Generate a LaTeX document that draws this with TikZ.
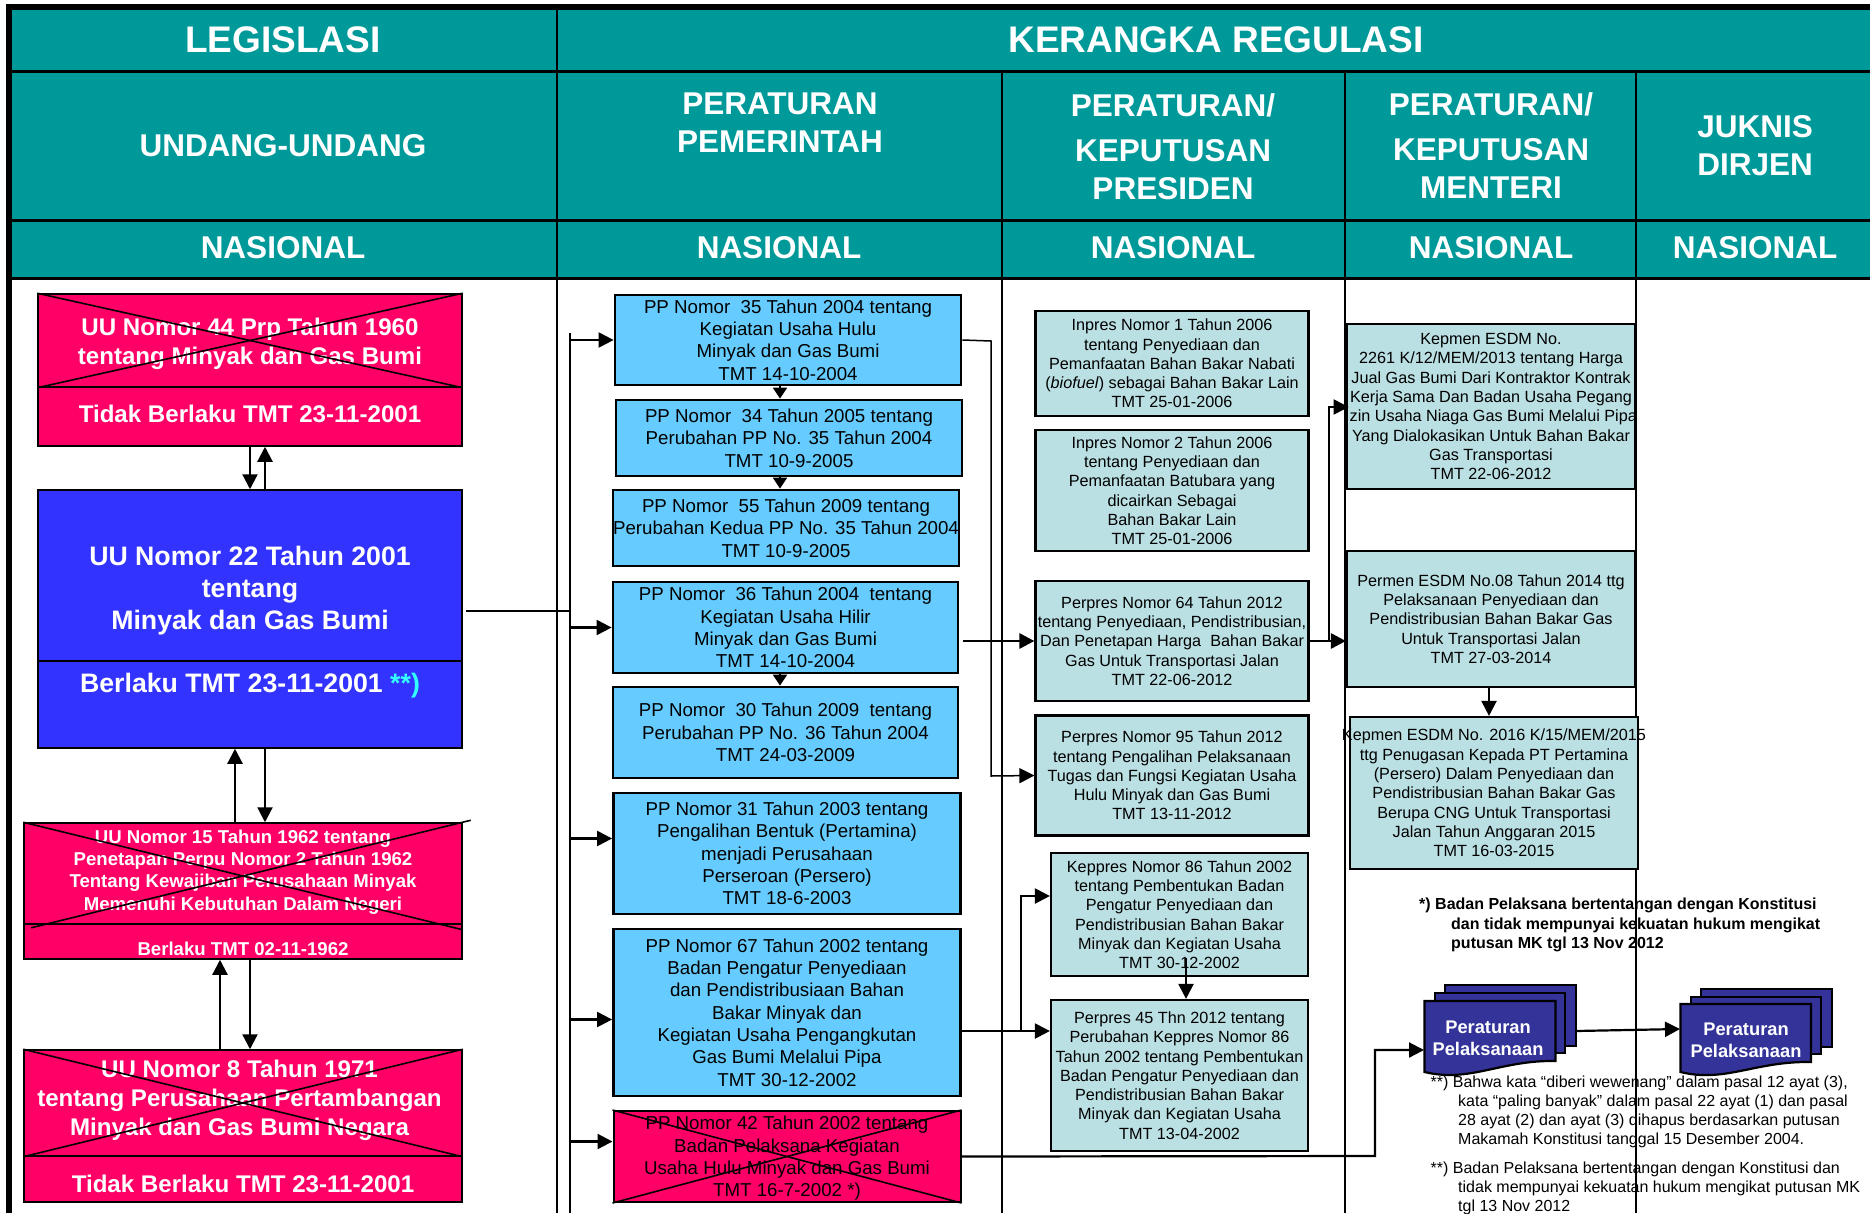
\documentclass[tikz,border=0pt]{standalone}
\usepackage{fontspec}
\setmainfont{Liberation Sans}
\usetikzlibrary{calc}
\usetikzlibrary{arrows.meta}
\definecolor{hdteal}{HTML}{009999}
\definecolor{dropred}{HTML}{FF0066}
\definecolor{lawblue}{HTML}{3333FF}
\definecolor{ppblue}{HTML}{66CCFF}
\definecolor{palebox}{HTML}{BBE0E3}
\definecolor{docblue}{HTML}{333399}
\definecolor{starcyan}{HTML}{33FFFF}
\tikzset{
	hdbig/.style={text=white,align=center,font=\fontsize{37}{44}\selectfont\bfseries},
	hdtext/.style={text=white,align=center,font=\fontsize{31.5}{38}\selectfont\bfseries},
	box/.style={draw=black,align=center,inner sep=0pt},
	uubox/.style={box,fill=dropred,line width=1.5},
	uusmall/.style={text=white,align=center,inner sep=0pt,font=\fontsize{18.6}{22.2}\selectfont\bfseries},
	uutext/.style={text=white,align=center,inner sep=0pt,font=\fontsize{24.1}{29}\selectfont\bfseries},
	uubig/.style={text=white,align=center,inner sep=0pt,font=\fontsize{26.7}{32}\selectfont\bfseries},
	ppbox/.style={box,fill=ppblue,line width=2.8,text depth=0pt,font=\fontsize{18.7}{22.3}\selectfont},
	dropbox/.style={box,fill=dropred,line width=2,text depth=0pt,font=\fontsize{18.7}{22.3}\selectfont},
	regbox/.style={box,fill=palebox,line width=2.2,text depth=0pt,font=\fontsize{16.2}{19.3}\selectfont},
	sheet/.style={draw=black,fill=docblue,line width=2.2,inner sep=0pt},
	doctext/.style={text=white,align=center,inner sep=0pt,font=\fontsize{18.3}{22}\selectfont\bfseries},
	notetext/.style={align=left,inner sep=0pt,font=\fontsize{16}{18.9}\selectfont},
	conn/.style={draw=black,-{Triangle[length=15,width=15]},line width=2.2},
	stub/.style={draw=black,-{Triangle[length=11,width=14]},line width=2.2},
	plain/.style={draw=black,line width=2},
	crossline/.style={draw=black,line width=1.6}
}
\begin{document}
\begin{tikzpicture}[x=1pt,y=-1pt]
	\useasboundingbox (0,0) rectangle (1870,1213);

	% Header band and grid
	\fill [hdteal] (8,7) rectangle (1870,277);
	\draw [line width=6] (8.5,1213) -- (8.5,7) -- (1870,7);
	\foreach \y in {71,220,278}{
		\draw [line width=3] (8,\y) -- (1870,\y);
	}
	\draw [line width=2.5] (557,7) -- (557,1213);
	\foreach \x in {1002,1345,1636}{
		\draw [line width=2.5] (\x,71) -- (\x,1213);
	}

	\node at (283,40) (legislasi) [hdbig] {LEGISLASI};
	\node at (1216,40) (kerangka) [hdbig] {KERANGKA REGULASI};
	\node at (283,146) (hduu) [hdtext] {UNDANG-UNDANG};
	\node at (780,123) (hdpp) [hdtext] {PERATURAN\\PEMERINTAH};
	\node at (1173,147) (hdpres) [hdtext] {PERATURAN/\\[7pt]KEPUTUSAN\\PRESIDEN};
	\node at (1491,146) (hdmen) [hdtext] {PERATURAN/\\[7pt]KEPUTUSAN\\MENTERI};
	\node at (1755,146) (hdjuk) [hdtext] {JUKNIS\\DIRJEN};
	\foreach \x/\n in {283/a,779/b,1173/c,1491/d,1755/e}{
		\node at (\x,248) (nas\n) [hdtext] {NASIONAL};
	}

	% Undang-undang
	\node at (250,340.5) (uu60a) [uubox,minimum width=424,minimum height=93] {};
	\node at (250,416.5) (uu60b) [uubox,minimum width=424,minimum height=59] {};
	\node at (250,344) (uu60t) [uutext] {UU Nomor 44 Prp Tahun 1960\\tentang Minyak dan Gas Bumi};
	\node at (250,414) (uu60s) [uutext] {Tidak Berlaku TMT 23-11-2001};
	\draw [crossline] (uu60a.north west) -- (uu60a.south east);
	\draw [crossline] (uu60a.south west) -- (uu60a.north east);

	\node at (250,575.5) (uu22a) [uubox,fill=lawblue,minimum width=424,minimum height=171] {};
	\node at (250,704.5) (uu22b) [uubox,fill=lawblue,minimum width=424,minimum height=87] {};
	\node at (250,590.5) (uu22t) [uubig] {UU Nomor 22 Tahun 2001\\tentang\\Minyak dan Gas Bumi};
	\node at (250,685.5) (uu22s) [uubig] {Berlaku TMT 23-11-2001 \textcolor{starcyan}{**)}};

	\node at (243,873.5) (uu15a) [uubox,minimum width=438,minimum height=101] {};
	\node at (243,941.5) (uu15b) [uubox,minimum width=438,minimum height=35] {};
	\node at (243,872) (uu15t) [uusmall] {UU Nomor 15 Tahun 1962 tentang\\Penetapan Perpu Nomor 2 Tahun 1962\\Tentang Kewajiban Perusahaan Minyak\\Memenuhi Kebutuhan Dalam Negeri};
	\node at (243,949) (uu15s) [uusmall] {Berlaku TMT 02-11-1962};
	\draw [crossline] (uu15a.north west) -- ($(uu15a.south east)+(0,5)$);
	\draw [crossline] ($(uu15a.south west)+(8,3)$) -- ($(uu15a.north east)+(8,-2)$);

	\node at (243,1103) (uu8a) [uubox,minimum width=438,minimum height=106] {};
	\node at (243,1179) (uu8b) [uubox,minimum width=438,minimum height=46] {};
	\node at (239.5,1100) (uu8t) [uutext] {UU Nomor 8 Tahun 1971\\tentang Perusahaan Pertambangan\\Minyak dan Gas Bumi Negara};
	\node at (243,1184) (uu8s) [uutext] {Tidak Berlaku TMT 23-11-2001};
	\draw [crossline] (uu8a.north west) -- (uu8a.south east);
	\draw [crossline] (uu8a.south west) -- (uu8a.north east);

	\draw [conn] (uu60b.south -| 250,0) -- (uu22a.north -| 250,0);
	\draw [conn] (uu22a.north -| 265,0) -- (uu60b.south -| 265,0);
	\draw [conn] (uu15a.north -| 235,0) -- (uu22b.south -| 235,0);
	\draw [conn] (uu22b.south -| 265,0) -- (uu15a.north -| 265,0);
	\draw [conn] (uu8a.north -| 220,0) -- (uu15b.south -| 220,0);
	\draw [conn] (uu15b.south -| 250,0) -- (uu8a.north -| 250,0);

	% Trunk towards the government regulations
	\coordinate (uu22out) at (466,611);
	\coordinate (trunktop) at (570,333);
	\coordinate (trunkbot) at (570,1213);
	\draw [plain] (trunktop) -- (trunkbot);
	\draw [plain] (uu22out) -- (trunktop |- uu22out);

	% Peraturan pemerintah
	\node at (788,340) (pp35) [ppbox,minimum width=346,minimum height=90] {PP Nomor~ 35 Tahun 2004 tentang\\Kegiatan Usaha Hulu\\Minyak dan Gas Bumi\\TMT 14-10-2004};
	\node at (789,438) (pp34) [ppbox,minimum width=346,minimum height=76] {PP Nomor~ 34 Tahun 2005 tentang\\Perubahan PP No. 35 Tahun 2004\\TMT 10-9-2005};
	\node at (786,528) (pp55) [ppbox,minimum width=346,minimum height=76] {PP Nomor~ 55 Tahun 2009 tentang\\Perubahan Kedua PP No. 35 Tahun 2004\\TMT 10-9-2005};
	\node at (785.5,627.5) (pp36) [ppbox,minimum width=345,minimum height=91] {PP Nomor~ 36 Tahun 2004~ tentang\\Kegiatan Usaha Hilir\\Minyak dan Gas Bumi\\TMT 14-10-2004};
	\node at (785.5,732.5) (pp30) [ppbox,minimum width=345,minimum height=91] {PP Nomor~ 30 Tahun 2009~ tentang\\Perubahan PP No. 36 Tahun 2004\\TMT 24-03-2009};
	\node at (787,853.5) (pp31) [ppbox,minimum width=347,minimum height=121] {PP Nomor 31 Tahun 2003 tentang\\Pengalihan Bentuk (Pertamina)\\menjadi Perusahaan\\Perseroan (Persero)\\TMT 18-6-2003};
	\node at (787,1012.5) (pp67) [ppbox,minimum width=347,minimum height=167] {PP Nomor 67 Tahun 2002 tentang\\Badan Pengatur Penyediaan\\dan Pendistribusiaan Bahan\\Bakar Minyak dan\\Kegiatan Usaha Pengangkutan\\Gas Bumi Melalui Pipa\\TMT 30-12-2002};
	\node at (787,1156.5) (pp42) [dropbox,minimum width=347,minimum height=91] {PP Nomor 42 Tahun 2002 tentang\\Badan Pelaksana Kegiatan\\Usaha Hulu Minyak dan Gas Bumi\\TMT 16-7-2002 *)};
	\draw [crossline] (pp42.north west) -- (pp42.south east);
	\draw [crossline] (pp42.south west) -- (pp42.north east);

	\foreach \b/\d in {pp35/0,pp36/0,pp31/-15,pp67/7,pp42/-15}{
		\coordinate (t) at ($(\b.west)+(0,\d)$);
		\draw [conn] (trunktop |- t) -- (t);
	}
	\draw [stub] (pp35.south -| 780,0) -- (pp34.north -| 780,0);
	\draw [stub] (pp34.south -| 780,0) -- (pp55.north -| 780,0);
	\draw [stub] (pp36.south -| 780,0) -- (pp30.north -| 780,0);

	% Peraturan presiden
	\node at (1172,363.5) (inp1) [regbox,minimum width=273,minimum height=105] {Inpres Nomor 1 Tahun 2006\\tentang Penyediaan dan\\Pemanfaatan Bahan Bakar Nabati\\(\textit{biofuel}) sebagai Bahan Bakar Lain\\TMT 25-01-2006};
	\node at (1172,490.5) (inp2) [regbox,minimum width=273,minimum height=121] {Inpres Nomor 2 Tahun 2006\\tentang Penyediaan dan\\Pemanfaatan Batubara yang\\dicairkan Sebagai\\Bahan Bakar Lain\\TMT 25-01-2006};
	\node at (1172,641) (pres64) [regbox,minimum width=273,minimum height=120] {Perpres Nomor 64 Tahun 2012\\tentang Penyediaan, Pendistribusian,\\Dan Penetapan Harga~ Bahan Bakar\\Gas Untuk Transportasi Jalan\\TMT 22-06-2012};
	\node at (1172,775.5) (pres95) [regbox,minimum width=273,minimum height=120] {Perpres Nomor 95 Tahun 2012\\tentang Pengalihan Pelaksanaan\\Tugas dan Fungsi Kegiatan Usaha\\Hulu Minyak dan Gas Bumi\\TMT 13-11-2012};
	\node at (1179.5,914.5) (kep86) [regbox,minimum width=257,minimum height=123] {Keppres Nomor 86 Tahun 2002\\tentang Pembentukan Badan\\Pengatur Penyediaan dan\\Pendistribusian Bahan Bakar\\Minyak dan Kegiatan Usaha\\TMT 30-12-2002};
	\node at (1179.5,1075.5) (pres45) [regbox,minimum width=257,minimum height=151] {Perpres 45 Thn 2012 tentang\\Perubahan Keppres Nomor 86\\Tahun 2002 tentang Pembentukan\\Badan Pengatur Penyediaan dan\\Pendistribusian Bahan Bakar\\Minyak dan Kegiatan Usaha\\TMT 13-04-2002};

	% Peraturan menteri
	\node at (1491,406.5) (kep2261) [regbox,minimum width=288,minimum height=165] {Kepmen ESDM No.\\2261 K/12/MEM/2013 tentang Harga\\Jual Gas Bumi Dari Kontraktor Kontrak\\Kerja Sama Dan Badan Usaha Pegang\\\makebox[0pt]{Izin Usaha Niaga Gas Bumi Melalui Pipa}\\Yang Dialokasikan Untuk Bahan Bakar\\Gas Transportasi\\TMT 22-06-2012};
	\node at (1491,619) (perm08) [regbox,minimum width=288,minimum height=136] {Permen ESDM No.08 Tahun 2014 ttg\\Pelaksanaan Penyediaan dan\\Pendistribusian Bahan Bakar Gas\\Untuk Transportasi Jalan\\TMT 27-03-2014};
	\node at (1494,793) (kep2016) [regbox,minimum width=288,minimum height=152] {\makebox[0pt]{Kepmen ESDM No. 2016 K/15/MEM/2015}\\ttg Penugasan Kepada PT Pertamina\\(Persero) Dalam Penyediaan dan\\Pendistribusian Bahan Bakar Gas\\Berupa CNG Untuk Transportasi\\Jalan Tahun Anggaran 2015\\TMT 16-03-2015};

	% Connectors between the columns
	\draw [conn,line width=2.8] ($(pp36.east |- pres64.west)+(4,0)$) -- (pres64.west);
	\draw [conn,line width=2.8] (pres64.east) -- (perm08.west |- pres64.east);
	\draw [conn] ($(pres64.east)+(19,0)$) -- ($(pres64.east)+(19,-234)$) -- ($(pres64.east)+(39,-234)$);
	\draw [conn] (perm08.south -| 1489,0) -- (kep2016.north -| 1489,0);
	\draw [conn,line width=1.5] (pp35.east) -- (991,341) -- (991,776) -- (pres95.west);
	\draw [conn] ($(kep86.south -| 1186,0)+(0,-19)$) -- (pres45.north -| 1186,0);
	\draw [conn] ($(pp67.east)+(0,18.5)$) -- (pres45.west |- 0,1031);
	\draw [conn] (1021,1031) -- (1021,896) -- (kep86.west |- 0,896);

	% Peraturan pelaksanaan
	\node at (1510.5,1015.5) (doc1c) [sheet,minimum width=131,minimum height=61] {};
	\node at (1500,1023) (doc1b) [sheet,minimum width=130,minimum height=60] {};
	\fill [docblue,draw=black,line width=2.2] (1424.5,1001) -- (1555.5,1001) -- (1555.5,1061) .. controls (1500,1060) and (1470,1083) .. (1424.5,1072) -- cycle;
	\node at (1488,1038) (doc1t) [doctext] {Peraturan\\Pelaksanaan};
	\node at (1766.5,1018) (doc2c) [sheet,minimum width=131,minimum height=58] {};
	\node at (1756,1025.5) (doc2b) [sheet,minimum width=130,minimum height=57] {};
	\fill [docblue,draw=black,line width=2.2] (1680.5,1004) -- (1811,1004) -- (1811,1062) .. controls (1755,1061) and (1725,1083) .. (1680.5,1072) -- cycle;
	\node at (1746,1040) (doc2t) [doctext] {Peraturan\\Pelaksanaan};
	\coordinate (doc1in) at (1424,1050);
	\coordinate (doc1out) at (1576,1031);
	\coordinate (doc2in) at (1680,1029);
	\draw [conn] (pp42.east) -- (1375,1156) -- (1375,1050) -- (doc1in);
	\draw [conn] (doc1out) -- (doc2in);

	% Notes
	\node at (1419,925) (note1) [notetext,anchor=west,font=\fontsize{16}{19.8}\selectfont\bfseries] {*) Badan Pelaksana bertentangan dengan Konstitusi\\\hspace{32pt}dan tidak mempunyai kekuatan hukum mengikat\\\hspace{32pt}putusan MK tgl 13 Nov 2012};
	\node at (1430.5,1112) (note2) [notetext,anchor=west] {**) Bahwa kata “diberi wewenang” dalam pasal 12 ayat (3),\\\hspace{27.5pt}kata “paling banyak” dalam pasal 22 ayat (1) dan pasal\\\hspace{27.5pt}28 ayat (2) dan ayat (3) dihapus berdasarkan putusan\\\hspace{27.5pt}Makamah Konstitusi tanggal 15 Desember 2004.};
	\node at (1430.5,1188) (note3) [notetext,anchor=west] {**) Badan Pelaksana bertentangan dengan Konstitusi dan\\\hspace{27.5pt}tidak mempunyai kekuatan hukum mengikat putusan MK\\\hspace{27.5pt}tgl 13 Nov 2012};
\end{tikzpicture}
\end{document}
